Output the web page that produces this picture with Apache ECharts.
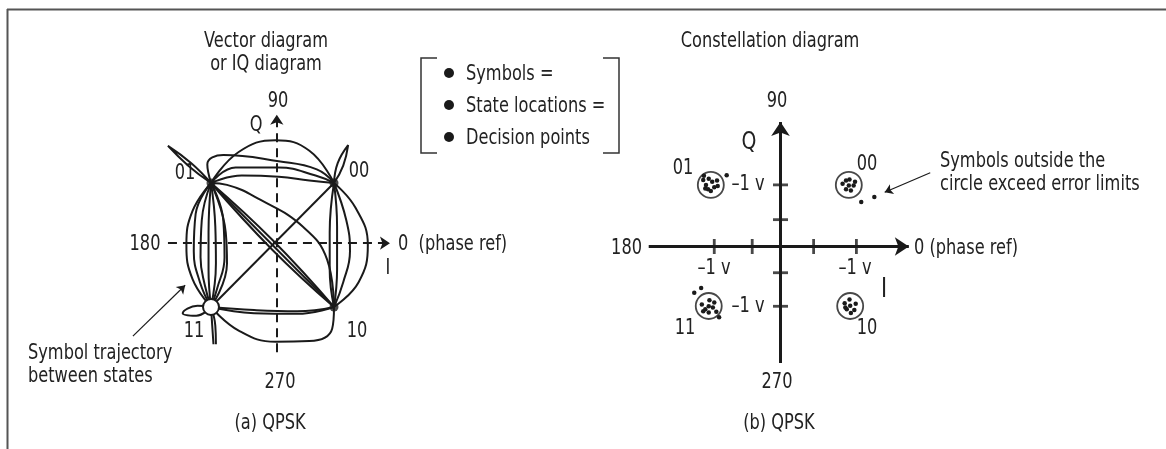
<!DOCTYPE html>
<html>
<head>
<meta charset="utf-8">
<title>QPSK vector and constellation diagrams</title>
<script src="https://cdn.jsdelivr.net/npm/echarts@6/dist/echarts.min.js"></script>
<style>
  html, body { margin: 0; padding: 0; background: #fff; }
  #chart { width: 1166px; height: 449px; }
</style>
</head>
<body>
<div id="chart"></div>
<script>
// ---- (a) vector / IQ diagram : I,Q in volts, states at +-1 ----
var stateDots = [[-1, 1], [1, 1], [1, -1]];      // 01, 00, 10
var stateOpen = [[-1, -1]];                      // 11
var topArcs = [
  [[-1, 1], [-0.55, 1.5], [0.05, 1.69], [0.6, 1.52], [1, 1]],
  [[-1, 1], [-1.06, 1.3], [-0.8, 1.45], [0.1, 1.35], [0.72, 1.22], [1, 1]],
  [[-1, 1], [-0.6, 1.25], [0.1, 1.25], [0.7, 1.12], [1, 1]],
  [[-1, 1], [-0.5, 1.12], [0.1, 1.1], [0.6, 1.04], [1, 1]]
];
var leftArcs = [
  [[-1, 1], [-1.3, 0.55], [-1.4, 0], [-1.3, -0.55], [-1, -1]],
  [[-1, 1], [-1.25, 0.5], [-1.28, -0.1], [-1.18, -0.6], [-1, -1]],
  [[-1, 1], [-1.15, 0.4], [-1.17, -0.2], [-1.1, -0.65], [-1, -1]],
  [[-1, 1], [-1.04, 0.2], [-1.04, -0.4], [-1, -1]],
  [[-1, 1], [-0.93, 0.3], [-0.92, -0.3], [-1, -1]],
  [[-1, 1], [-0.8, 0.4], [-0.78, -0.2], [-0.9, -0.7], [-1, -1]],
  [[-1, 1], [-0.76, 0.2], [-0.74, -0.3], [-1, -1]]
];
var rightArcs = [
  [[1, 1], [1.35, 0.6], [1.55, 0], [1.4, -0.6], [1, -1]],
  [[1, 1], [1.2, 0.4], [1.26, -0.1], [1.15, -0.6], [1, -1]],
  [[1, 1], [1.05, 0.3], [1.05, -0.4], [1, -1]],
  [[1, 1], [0.93, 0.2], [0.93, -0.4], [1, -1]]
];
var bottomArcs = [
  [[-1, -1], [-0.3, -1.05], [0.4, -1.07], [1, -1]],
  [[-1, -1], [-0.3, -1.1], [0.4, -1.11], [1, -1]],
  [[-1, -1], [-0.55, -1.38], [0.05, -1.56], [0.6, -1.55], [0.97, -1.35], [1, -1]]
];
var diagonals = [
  [[1, 1], [-1, -1]],
  [[-1, 1], [1, -1]],
  [[-1, 1], [0, -0.08], [1, -1]],
  [[-1, 1], [0, 0.08], [1, -1]],
  [[-1, 1], [-0.74, 0.97], [-0.2, 0.73], [0.5, 0.29], [0.89, -0.24], [1, -1]]
];
var petals = [
  [[-1, 1], [-1.32, 1.32], [-1.7, 1.6], [-1.37, 1.28], [-1, 1]],
  [[1, 1], [1.06, 1.32], [1.23, 1.61], [1.15, 1.28], [1, 1]],
  [[-1, -1], [-1.22, -0.98], [-1.46, -1.1], [-1.24, -1.14], [-1, -1]],
  [[-1, -1], [-0.98, -1.3], [-0.96, -1.6]],
  [[-1, -1], [-0.93, -1.3], [-0.92, -1.6]]
];

// ---- (b) constellation diagram ----
var iTicks = [-0.96, -0.41, 0.48, 1.1];
var qTicks = [1.01, 0.44, -0.43, -0.98];
var limitCircles = [[-1.01, 1.01], [0.99, 1.01], [-1.04, -0.975], [1.01, -0.975]];
var symbols01 = [[-1.12, 1.09], [-1.08, 1.01], [-1.05, 0.94], [-0.99, 1.06], [-0.96, 0.97], [-0.92, 1.08], [-1.01, 0.91], [-1.09, 0.95], [-0.91, 0.99], [-1.04, 1.11], [-1.11, 1.16]];
var symbols00 = [[0.9, 1.03], [0.95, 0.94], [1.0, 1.1], [1.06, 1.0], [1.02, 0.92], [0.95, 1.08], [1.08, 1.06], [0.99, 1.0]];
var symbols11 = [[-1.14, -0.95], [-1.09, -1.03], [-1.03, -0.88], [-0.98, -1.0], [-1.04, -1.08], [-0.96, -0.92], [-1.12, -1.06], [-0.93, -1.07], [-0.89, -1.16], [-1.04, -0.98]];
var symbols10 = [[0.93, -0.93], [1.0, -0.87], [1.09, -0.94], [0.96, -1.03], [1.07, -1.04], [1.02, -1.09], [0.94, -1.0], [1.01, -0.97]];
var outliers = [[-0.78, 1.17], [1.17, 0.73], [1.36, 0.81], [-1.15, -0.68], [-1.25, -0.76]];

var FONT = '"DejaVu Sans Condensed", "Liberation Sans Narrow", sans-serif';
var INK = '#1a1a1a';

var chart = echarts.init(document.getElementById('chart'));

function traj(points) {
  return {
    type: 'line', xAxisIndex: 0, yAxisIndex: 0, data: points,
    smooth: 0.45, symbol: 'none', silent: true,
    lineStyle: { color: INK, width: 2 }
  };
}

function arrowLine(from, to, width, size, dashed) {
  return {
    silent: true, symbol: ['none', 'arrow'], symbolSize: size,
    label: { show: false },
    lineStyle: { color: INK, width: width, type: dashed ? [9, 6] : 'solid', opacity: 1 },
    data: [[{ coord: from }, { coord: to }]]
  };
}

// condensed face stretched a little to match the tall narrow lettering
function label(text, x, y, align, size) {
  return {
    type: 'text', x: x, y: y + 2, scaleY: 1.15, silent: true,
    style: {
      text: text, fill: '#222', font: (size || 18) + 'px ' + FONT,
      align: align || 'center', verticalAlign: 'middle'
    }
  };
}

var series = [];
[topArcs, leftArcs, rightArcs, bottomArcs, diagonals, petals].forEach(function (group) {
  group.forEach(function (p) { series.push(traj(p)); });
});

// dashed I/Q axes of the vector diagram + annotation arrow
series.push({
  type: 'scatter', xAxisIndex: 0, yAxisIndex: 0, data: stateDots,
  symbolSize: 9, itemStyle: { color: INK }, silent: true, z: 5,
  markLine: arrowLine([-1.70, 0.03], [1.91, 0.03], 2, 10, true)
});
series.push({
  type: 'scatter', xAxisIndex: 0, yAxisIndex: 0, data: stateOpen,
  symbolSize: 16, itemStyle: { color: '#fff', borderColor: INK, borderWidth: 2, opacity: 1 }, silent: true, z: 5,
  markLine: arrowLine([0.07, -1.73], [0.07, 2.1], 2, 10, true)
});
series.push({
  type: 'scatter', xAxisIndex: 0, yAxisIndex: 0, data: [], silent: true,
  markLine: arrowLine([-2.27, -1.47], [-1.42, -0.65], 1.2, 8, false)
});

// constellation axes, ticks, circles and symbols
series.push({
  type: 'scatter', xAxisIndex: 1, yAxisIndex: 1, data: iTicks.map(function (v) { return [v, 0]; }),
  symbol: 'rect', symbolSize: [2.8, 15], itemStyle: { color: INK }, silent: true,
  markLine: arrowLine([-1.91, 0], [1.86, 0], 3, 14, false)
});
series.push({
  type: 'scatter', xAxisIndex: 1, yAxisIndex: 1, data: qTicks.map(function (v) { return [0, v]; }),
  symbol: 'rect', symbolSize: [15, 2.8], itemStyle: { color: INK }, silent: true,
  markLine: arrowLine([0, -1.91], [0, 2.04], 3, 14, false)
});
series.push({
  type: 'scatter', xAxisIndex: 1, yAxisIndex: 1, data: limitCircles,
  symbol: 'circle', symbolSize: 26, silent: true,
  itemStyle: { color: 'rgba(0,0,0,0)', borderColor: INK, borderWidth: 1.8 },
  markLine: arrowLine([2.17, 1.21], [1.51, 0.89], 1.2, 8, false)
});
[symbols01, symbols00, symbols11, symbols10, outliers].forEach(function (d) {
  series.push({
    type: 'scatter', xAxisIndex: 1, yAxisIndex: 1, data: d,
    symbolSize: 4.5, itemStyle: { color: INK, opacity: 1 }, silent: true
  });
});

var graphics = [
  { type: 'line', shape: { x1: 7, y1: 9.5, x2: 1166, y2: 9.5 }, style: { stroke: '#555', lineWidth: 2 }, silent: true },
  { type: 'line', shape: { x1: 7.5, y1: 9, x2: 7.5, y2: 449 }, style: { stroke: '#555', lineWidth: 2 }, silent: true },
  // legend brackets and bullets
  { type: 'polyline', shape: { points: [[437, 58], [421, 58], [421, 153], [437, 153]] }, style: { stroke: '#333', lineWidth: 1.5, fill: null }, silent: true },
  { type: 'polyline', shape: { points: [[603, 58], [619, 58], [619, 153], [603, 153]] }, style: { stroke: '#333', lineWidth: 1.5, fill: null }, silent: true },
  { type: 'circle', shape: { cx: 449, cy: 73, r: 5 }, style: { fill: INK }, silent: true },
  { type: 'circle', shape: { cx: 449, cy: 105, r: 5 }, style: { fill: INK }, silent: true },
  { type: 'circle', shape: { cx: 449, cy: 137, r: 5 }, style: { fill: INK }, silent: true },
  label('Symbols =', 466, 73, 'left'),
  label('State locations =', 466, 105, 'left'),
  label('Decision points', 466, 137, 'left'),
  // (a)
  label('Vector diagram', 266, 40),
  label('or IQ diagram', 266, 63),
  label('90', 278, 100),
  label('Q', 256, 124),
  label('01', 185, 172),
  label('00', 359, 170),
  label('180', 145, 243),
  label('0  (phase ref)', 398, 243, 'left'),
  label('I', 388, 267),
  label('11', 194, 330),
  label('10', 357, 330),
  label('270', 280, 381),
  label('(a) QPSK', 270, 422),
  label('Symbol trajectory', 28, 352, 'left'),
  label('between states', 28, 375, 'left'),
  // (b)
  label('Constellation diagram', 770, 40),
  label('90', 777, 100),
  label('Q', 749, 141, 'center', 21),
  label('01', 683, 167),
  label('00', 867, 163),
  label('\u20131 v', 748, 183),
  label('\u20131 v', 748, 305),
  label('\u20131 v', 714, 267),
  label('\u20131 v', 855, 267),
  label('I', 884, 288, 'center', 23),
  label('180', 642, 247, 'right'),
  label('0 (phase ref)', 914, 247, 'left'),
  label('11', 685, 327),
  label('10', 867, 327),
  label('270', 777, 381),
  label('(b) QPSK', 779, 422),
  label('Symbols outside the', 940, 160, 'left'),
  label('circle exceed error limits', 940, 183, 'left')
];

var hiddenAxis = function (idx, min, max) {
  return { type: 'value', gridIndex: idx, min: min, max: max, show: false };
};

chart.setOption({
  animation: false,
  backgroundColor: '#fff',
  grid: [
    { left: 88, top: 59, width: 369, height: 372 },
    { left: 608, top: 94, width: 345, height: 305 }
  ],
  xAxis: [hiddenAxis(0, -3, 3), hiddenAxis(1, -2.5, 2.5)],
  yAxis: [hiddenAxis(0, -3, 3), hiddenAxis(1, -2.5, 2.5)],
  series: series,
  graphic: graphics
});
</script>
</body>
</html>
